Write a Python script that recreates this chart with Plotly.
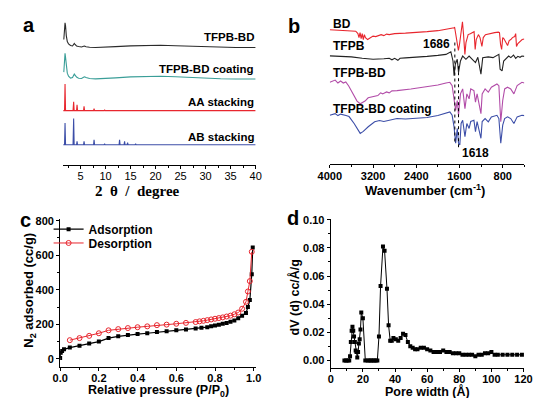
import plotly.graph_objects as go

W, H = 541, 398
def px(x): return x / W
def py(y): return 1 - y / H

SANS = "Liberation Sans, Arial, sans-serif"
SERIF = "Liberation Serif, Times New Roman, serif"

# ---------------- Panel a: XRD (2theta, intensity a.u. relative to each baseline) ----------------
xrd_labels = ["TFPB-BD", "TFPB-BD coating", "AA stacking", "AB stacking"]
xrd_colors = ["#2b2b2b", "#3a9e98", "#e8262e", "#3c4ea8"]
xrd_offsets = [119, 87, 55, 20.5]

tfpb_bd_x = [1.65, 1.8, 1.9, 2.0, 2.15, 2.35, 2.6, 3.0, 3.4, 3.6, 3.75, 3.9, 4.2, 4.6, 5.2, 5.6, 5.8, 6.1, 6.8,
             8, 10, 12, 15, 18, 21, 24, 27, 30, 33, 36, 40]
tfpb_bd_y = [8, 18, 25, 22, 12, 6, 3.5, 2, 1.5, 3, 4, 3, 1.5, 1, 0.5, 1.2, 1.4, 0.8, 0.2,
             0, 0.2, 0.8, 1.6, 2.2, 2.2, 1.8, 1.2, 0.6, 0.2, 0, 0]

coating_x = [1.65, 1.8, 1.9, 2.0, 2.15, 2.35, 2.6, 3.0, 3.4, 3.6, 3.75, 3.9, 4.2, 4.6, 5.2, 5.6, 5.8, 6.1, 6.8,
             8, 10, 12, 15, 18, 21, 24, 27, 30, 33, 36, 40]
coating_y = [7, 18, 26, 22, 12, 6, 3, 1, 1.5, 4, 5, 4, 2, 0.8, 0.6, 1.8, 2.3, 1.5, 0.5,
             0.2, 0.5, 1.2, 2.2, 2.8, 2.8, 2.3, 1.5, 0.8, 0.3, 0, 0]

aa_x = [1.55, 1.8, 1.9, 2.0, 3.5, 3.62, 3.72, 4.2, 4.3, 4.4, 5.6, 5.7, 5.8, 7.6, 7.7, 7.8,
        9.7, 9.8, 9.9, 12.4, 12.5, 12.6, 40]
aa_y = [0, 0, 27, 0, 0, 9, 0, 0, 6, 0, 0, 4.3, 0, 0, 2, 0,
        0, 1, 0, 0, 0.7, 0, 0]

ab_x = [1.55, 1.8, 1.9, 2.0, 3.5, 3.62, 3.72, 4.2, 4.3, 4.4, 5.6, 5.7, 5.8, 7.6, 7.7, 7.8,
        9.7, 9.8, 9.9, 12.7, 12.8, 12.9, 13.7, 13.8, 13.9, 14.3, 14.4, 14.5, 15.9, 16, 16.1,
        25.9, 26, 26.1, 40]
ab_y = [0, 0, 22, 0, 0, 26.5, 0, 0, 3.5, 0, 0, 3.5, 0, 0, 5, 0,
        0, 1, 0, 0, 5, 0, 0, 3.5, 0, 0, 2, 0, 0, 1, 0,
        0, 0.6, 0, 0]

xrd_x = [tfpb_bd_x, coating_x, aa_x, ab_x]
xrd_y = [tfpb_bd_y, coating_y, aa_y, ab_y]
xrd_ticks = [5, 10, 15, 20, 25, 30, 35, 40]

# ---------------- Panel b: FTIR (wavenumber, transmittance a.u. relative to baseline) ----------------
ir_labels = ["BD", "TFPB", "TFPB-BD", "TFPB-BD coating"]
ir_colors = ["#e8262e", "#222222", "#b24ca8", "#3c4ea8"]
ir_offsets = [135, 109, 83, 49]

bd_wn = [4000, 3800, 3600, 3520, 3480, 3460, 3440, 3420, 3400, 3380, 3360, 3340, 3300, 3250, 3200, 3150,
         3100, 3050, 3000, 2950, 2900, 2800, 2600, 2400, 2200, 2000, 1800, 1700, 1690, 1660, 1640, 1620,
         1600, 1570, 1545, 1525, 1500, 1480, 1440, 1400, 1360, 1330, 1310, 1290, 1250, 1220, 1185, 1160,
         1120, 1050, 950, 880, 860, 840, 820, 800, 780, 740, 710, 680, 650, 620, 580, 560, 545, 520,
         480, 440, 400]
bd_t = [1, 0.5, 0, -0.5, -3, -7, -2, -8, -3, -9, -4, -7, -9, -7, -5.5, -6,
        -5, -4, -5, -3.5, -4, -3, -2.5, -2, -1, 0, 1.5, 3, 3.5, -9, -16, -20,
        -14, 1, 9, -4, -24, -12, -4, -3, -2, -1, -19, -9, -4, -7, -16, -7,
        -4, -3, -2, -1.5, -2, -14, -19, -7, -8, -12, -15, -10, -9, -7, -6, -3, -16, -13,
        -11, -9, -8.5]

tfpb_wn = [4000, 3800, 3600, 3400, 3200, 3000, 2900, 2850, 2800, 2740, 2700, 2600, 2400, 2200, 2000, 1850,
           1760, 1720, 1700, 1677, 1641, 1618, 1582, 1541, 1481, 1422, 1363, 1304, 1260, 1203, 1170, 1067,
           980, 919, 871, 848, 812, 782, 730, 690, 650, 600, 560, 520, 480, 444, 400]
tfpb_t = [0.5, 0, -0.5, -2, -3, -2.5, -2, -3.5, -2, -4, -2, -1.5, -1, 0, 1, 2,
          4.7, -4.7, -19.7, -8, -3, -16.3, -4.7, 0.3, -3, 0.3, -3, -6.3, -1, -18, -1.3, -0.5,
          -1.3, 0.3, 2, -13, -14.7, -4.7, -1.3, 0.3, -1.3, 1.3, -2, 0, -1, 0.3, 0]

tfpbbd_wn = [4000, 3900, 3850, 3800, 3750, 3704, 3650, 3585, 3496, 3437, 3348, 3290, 3230, 3111, 3060, 3022,
             2950, 2900, 2850, 2756, 2500, 2200, 2000, 1850, 1778, 1736, 1701, 1671, 1641, 1618, 1582, 1541,
             1499, 1464, 1422, 1392, 1333, 1304, 1274, 1203, 1180, 1126, 1067, 1010, 907, 871, 836, 800,
             764, 711, 652, 593, 533, 444, 400]
tfpbbd_t = [-0.3, 2, -1, 1, -1, 0, -4, -10.3, -19.3, -22, -19.3, -16, -15.3, -13.7, -11, -12,
            -10, -11, -9, -8.7, -7, -5, -3, -1, -0.3, -3.7, -15.3, -28.7, -18.7, -33.7, -12, -7,
            -27, -12, -17, -7, -8.7, -20.3, -12, -32, -12, -7, -10.3, -5.3, -2, -3.7, -40.3, -18.7,
            -7, -5.3, -7, -12, -3.7, -0.3, -1]

coat_wn = [4000, 3900, 3850, 3800, 3700, 3644, 3550, 3480, 3437, 3380, 3289, 3170, 3080, 3000, 2933, 2860,
           2756, 2600, 2400, 2200, 2000, 1850, 1778, 1736, 1701, 1671, 1641, 1618, 1594, 1570, 1541, 1499,
           1464, 1422, 1392, 1333, 1304, 1274, 1203, 1180, 1126, 1067, 1010, 907, 871, 836, 800, 764,
           711, 652, 593, 533, 444, 400]
coat_t = [0.3, 2, 0, 1.5, 0, -1, -8, -15, -18, -16, -11.3, -6.3, -5, -6, -5.3, -4,
          -3, -3.5, -3, -2, 0, 2, 3.7, 0.3, -11.3, -28, -13, -28, -29.7, -8, -4.7, -21.3,
          -8, -13, -6, -4.7, -16.3, -6, -23, -6, -3, -6.3, -1.3, 0.3, -3, -28, -9.7, -3,
          -1.3, -3, -8, -1.3, 0.3, 0]

ir_x = [bd_wn, tfpb_wn, tfpbbd_wn, coat_wn]
ir_y = [bd_t, tfpb_t, tfpbbd_t, coat_t]
ir_ticks = [4000, 3200, 2400, 1600, 800]
ir_marks = [1686, 1618]

# ---------------- Panel c: N2 isotherm ----------------
ads_p = [0.0, 0.003, 0.01, 0.02, 0.05, 0.1, 0.15, 0.2, 0.25, 0.3, 0.35, 0.4, 0.45, 0.5, 0.55, 0.6, 0.65,
         0.7, 0.73, 0.76, 0.78, 0.8, 0.82, 0.84, 0.86, 0.88, 0.9, 0.92, 0.94, 0.96, 0.97, 0.98, 0.99, 0.995]
ads_v = [5, 35, 45, 55, 65, 75, 88, 100, 120, 130, 138, 143, 148, 155, 160, 165, 170,
         175, 180, 183, 188, 193, 198, 203, 208, 215, 222, 235, 250, 265, 300, 340, 490, 645]
des_p = [0.05, 0.1, 0.15, 0.2, 0.25, 0.3, 0.35, 0.4, 0.45, 0.5, 0.55, 0.6, 0.65, 0.7, 0.72, 0.74, 0.76,
         0.78, 0.8, 0.82, 0.84, 0.86, 0.88, 0.9, 0.92, 0.94, 0.96, 0.97, 0.98, 0.99]
des_v = [108, 120, 133, 148, 165, 172, 178, 183, 188, 195, 198, 203, 208, 213, 217, 220, 224,
         228, 232, 236, 240, 245, 250, 258, 268, 290, 330, 390, 450, 620]

# ---------------- Panel d: pore size distribution ----------------
pore_w = [8.5, 9.5, 10.5, 11.5, 12, 12.5, 13, 13.5, 14, 14.5, 15, 15.5, 16, 16.5, 17, 17.5, 18, 18.5,
          19, 20, 21.5, 23, 24, 25, 26, 27, 28, 29, 30, 31, 32.5, 33.5, 35, 36, 37, 38, 39, 40.5,
          42, 43.5, 45, 46.5, 48, 49.5, 51, 52.5, 54, 56, 58, 60, 62, 64, 66, 68, 70, 72, 74, 76,
          78, 80, 82, 84, 86, 88, 90, 92, 94, 96, 98, 100, 102, 104, 107, 110, 113, 116, 119]
pore_dv = [0, 0, 0, 0, 0.003, 0.013, 0.021, 0.024, 0.021, 0.017, 0.013, 0.007, 0.006, 0.002, 0.006, 0.012,
           0.015, 0.022, 0.034, 0.030, 0, 0, 0, 0, 0, 0, 0, 0, 0.017, 0.053, 0.081, 0.078, 0.051, 0.025,
           0.014, 0.014, 0.016, 0.015, 0.014, 0.016, 0.019, 0.018, 0.013, 0.010, 0.009, 0.008, 0.008,
           0.009, 0.009, 0.008, 0.007, 0.006, 0.006, 0.006, 0.007, 0.006, 0.006, 0.005, 0.005, 0.005,
           0.004, 0.004, 0.004, 0.004, 0.003, 0.004, 0.004, 0.005, 0.005, 0.006, 0.004, 0.004, 0.004,
           0.004, 0.004, 0.004, 0.004]

fig = go.Figure()

for xs, ys, off, col in zip(xrd_x, xrd_y, xrd_offsets, xrd_colors):
    fig.add_trace(go.Scatter(x=xs, y=[v + off for v in ys], mode="lines",
                             line=dict(color=col, width=1.1), xaxis="x", yaxis="y", showlegend=False))

for xs, ys, off, col in zip(ir_x, ir_y, ir_offsets, ir_colors):
    fig.add_trace(go.Scatter(x=xs, y=[v + off for v in ys], mode="lines",
                             line=dict(color=col, width=1.1), xaxis="x2", yaxis="y2", showlegend=False))

fig.add_trace(go.Scatter(x=ads_p, y=ads_v, mode="lines+markers", name="Adsorption", legend="legend",
                         line=dict(color="black", width=1.2),
                         marker=dict(symbol="square", size=4, color="black"),
                         xaxis="x3", yaxis="y3"))
fig.add_trace(go.Scatter(x=des_p, y=des_v, mode="lines+markers", name="Desorption", legend="legend2",
                         line=dict(color="#e8262e", width=1),
                         marker=dict(symbol="circle-open", size=5, color="#e8262e", line=dict(width=1)),
                         xaxis="x3", yaxis="y3"))

fig.add_trace(go.Scatter(x=pore_w, y=pore_dv, mode="lines+markers",
                         line=dict(color="black", width=1),
                         marker=dict(symbol="square", size=4, color="black"),
                         xaxis="x4", yaxis="y4", showlegend=False))

bold_tick = dict(family=SANS, size=11, color="black", weight="bold")
axis_common = dict(showgrid=False, zeroline=False, showline=True, linecolor="black", linewidth=1.1,
                   ticks="outside", ticklen=3, tickwidth=1, tickcolor="black")
legend_common = dict(xanchor="left", yanchor="middle", bgcolor="rgba(0,0,0,0)",
                     font=dict(family=SANS, size=12, color="black", weight="bold"),
                     itemwidth=30, borderwidth=0)

fig.update_layout(
    width=W, height=H, margin=dict(l=0, r=0, t=0, b=0),
    paper_bgcolor="white", plot_bgcolor="white",
    font=dict(family=SANS, color="black"),
    xaxis=dict(domain=[px(53), px(253)], anchor="y", range=[1.5, 40], tickvals=xrd_ticks,
               tickfont=dict(family=SANS, size=11, color="black"), ticklabelstandoff=-2,
               minor=dict(ticks="outside", ticklen=2, tick0=0, dtick=2.5, tickcolor="black"), **axis_common),
    yaxis=dict(domain=[py(162), py(12)], range=[0, 150], visible=False),
    xaxis2=dict(domain=[px(330), px(532)], anchor="y2", range=[4000, 400], tickvals=ir_ticks,
                tickfont=bold_tick, ticklabelstandoff=-1,
                minor=dict(ticks="outside", ticklen=2, tick0=0, dtick=400, tickcolor="black"), **axis_common),
    yaxis2=dict(domain=[py(161), py(12)], range=[0, 149], visible=False),
    xaxis3=dict(domain=[px(50), px(253)], anchor="y3", range=[0, 1.01], dtick=0.2, tickformat=".1f",
                tickfont=bold_tick, ticklabelstandoff=-2,
                minor=dict(ticks="outside", ticklen=2, dtick=0.1, tickcolor="black"), **axis_common),
    yaxis3=dict(domain=[py(366.7), py(216.7)], anchor="x3", range=[-48, 810], dtick=200,
                tickfont=bold_tick,
                minor=dict(ticks="outside", ticklen=2, dtick=100, tickcolor="black"), **axis_common),
    xaxis4=dict(domain=[px(331), px(532)], anchor="y4", range=[0, 120.5], dtick=20,
                tickfont=bold_tick, ticklabelstandoff=-2,
                minor=dict(ticks="outside", ticklen=2, dtick=10, tickcolor="black"), **axis_common),
    yaxis4=dict(domain=[py(367.3), py(216.7)], anchor="x4", range=[-0.0052, 0.1006], dtick=0.02,
                tickformat=".2f", tickfont=bold_tick,
                minor=dict(ticks="outside", ticklen=2, dtick=0.01, tickcolor="black"), **axis_common),
    legend=dict(x=px(38), y=py(227), **legend_common),
    legend2=dict(x=px(38), y=py(241), **legend_common),
)

annots = []
def ann(text, x, y, size=12, xanchor="center", angle=0, family=SANS, weight="bold"):
    annots.append(dict(text=text, x=px(x), y=py(y), xref="paper", yref="paper", showarrow=False,
                       xanchor=xanchor, yanchor="middle", textangle=angle,
                       font=dict(family=family, size=size, color="black", weight=weight)))

for t, (x, y) in zip(["a", "b", "c", "d"], [(18, 20), (293, 21), (14, 218), (292, 216)]):
    ann(t, x, y, size=20)

for t, y in zip(xrd_labels, [32, 65, 98, 134]):
    ann(t, 253, y, size=11.5, xanchor="right")
for t, y in zip(ir_labels, [19, 42, 69, 105]):
    ann(t, 331, y, size=12, xanchor="left")

ann(str(ir_marks[0]), 457, 40, size=12, xanchor="right")
ann(str(ir_marks[1]), 465, 150, size=12, xanchor="left")

NB = "\u00a0"
ann("2" + NB * 2 + "θ" + NB * 2 + "/" + NB * 2 + "degree", 130, 188, size=15, family=SERIF)
ann("Wavenumber (cm<sup>-1</sup>)", 429, 187, size=13)
ann("Relative pressure (P/P<sub>0</sub>)", 152, 391, size=12.5)
ann("N<sub>2</sub> adsorbed (cc/g)", 18, 289, size=13, angle=-90)
ann("Pore width (Å)", 431, 391, size=12.5)
ann("dV (d) cc/Å/g", 293, 296, size=12.5, angle=-90)

fig.update_layout(annotations=annots)

# dotted guide lines for the two marked bands in panel b
for wn, (top, bottom) in zip(ir_marks, [(123, 21), (99, 14)]):
    fig.add_shape(type="line", xref="x2", yref="y2", x0=wn, x1=wn, y0=top, y1=bottom,
                  line=dict(color="black", width=1, dash="dot"))

fig.write_html("out.html", config={"displayModeBar": False},
               post_script="document.body.style.margin='0';document.body.style.overflow='hidden';")
